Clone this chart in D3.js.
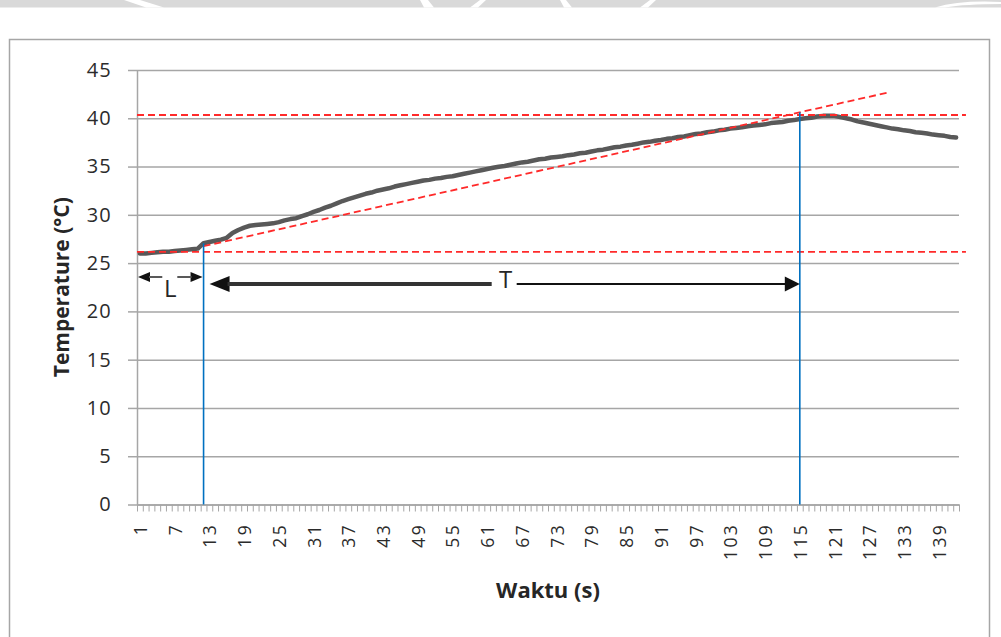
<!DOCTYPE html>
<html>
<head>
<meta charset="utf-8">
<script src="https://cdn.jsdelivr.net/npm/d3@7/dist/d3.min.js"></script>
<style>
body { margin: 0; background: #fff; }
svg { display: block; font-family: "Open Sans", "Noto Sans", sans-serif; }
</style>
</head>
<body>
<svg id="chart" width="1001" height="637"></svg>
<script>
// temperature reading per second
var temperature = [
  26.00, 26.00, 26.06, 26.12, 26.18, 26.18, 26.25, 26.31, 26.37, 26.43,
  26.50, 27.06, 27.18, 27.31, 27.43, 27.62, 28.12, 28.43, 28.68, 28.87,
  28.95, 29.00, 29.06, 29.12, 29.25, 29.43, 29.56, 29.65, 29.87, 30.06,
  30.30, 30.50, 30.75, 30.94, 31.18, 31.43, 31.62, 31.81, 32.00, 32.18,
  32.31, 32.50, 32.62, 32.75, 32.93, 33.06, 33.18, 33.31, 33.43, 33.56,
  33.62, 33.75, 33.81, 33.93, 34.00, 34.12, 34.25, 34.37, 34.50, 34.62,
  34.75, 34.87, 34.98, 35.06, 35.18, 35.31, 35.43, 35.50, 35.62, 35.75,
  35.81, 35.93, 36.00, 36.06, 36.18, 36.25, 36.37, 36.43, 36.56, 36.68,
  36.75, 36.87, 37.00, 37.06, 37.18, 37.25, 37.37, 37.50, 37.56, 37.68,
  37.75, 37.87, 37.93, 38.06, 38.12, 38.25, 38.37, 38.43, 38.56, 38.62,
  38.75, 38.81, 38.93, 39.00, 39.06, 39.18, 39.25, 39.31, 39.37, 39.50,
  39.56, 39.62, 39.75, 39.81, 39.93, 40.00, 40.06, 40.18, 40.25, 40.25,
  40.25, 40.12, 40.00, 39.87, 39.68, 39.56, 39.43, 39.31, 39.18, 39.06,
  38.93, 38.87, 38.75, 38.68, 38.56, 38.50, 38.43, 38.31, 38.25, 38.18,
  38.06, 38.00
];
var waktu = temperature.map(function(d, i) { return i + 1; });
var xTickLabels = ["1","7","13","19","25","31","37","43","49","55","61","67","73",
  "79","85","91","97","103","109","115","121","127","133","139"];
var yTicks = [0, 5, 10, 15, 20, 25, 30, 35, 40, 45];

// annotation (red dashed + blue markers)
var levelLow = 26.16, levelHigh = 40.34;
var tangentX = [12, 130.4], tangentY = [26.75, 42.69];
var markL = [0.5, 12], levelL = 23.56;
var markT = [12, 115], levelT = 22.84;

var svg = d3.select("#chart");
var plotL = 137, plotR = 959, plotT = 70, plotB = 504.5;

var x = d3.scaleLinear().domain([0.5, waktu.length + 0.5]).range([plotL, plotR]);
var y = d3.scaleLinear().domain([0, 45]).range([plotB, plotT]);

// page strip at top (scanned page) + chart frame
svg.append("rect").attr("x", 0).attr("y", 0).attr("width", 1001).attr("height", 7.5).attr("fill", "#d9d9d9");
var marks = svg.append("g").attr("fill", "#fff");
marks.append("path").attr("d", "M124,0 L140,0 L164,7.5 L146,7.5 Z");
marks.append("path").attr("d", "M420,0 L428,0 L434,7.5 L424,7.5 Z M470,7.5 L480,0 L486,0 L478,7.5 Z");
marks.append("path").attr("d", "M560,0 L566,0 L572,7.5 L564,7.5 Z M640,7.5 L650,0 L656,0 L648,7.5 Z");
marks.append("path").attr("d", "M935,7.5 Q960,0 1001,2 L1001,4 Q965,4 945,7.5 Z");
svg.append("path")
  .attr("d", "M9.5,645 V39.5 H989.5 V645")
  .attr("fill", "none").attr("stroke", "#a6a6a6").attr("stroke-width", 1.5);

// gridlines
var grid = svg.append("g")
  .attr("transform", "translate(" + plotL + ",0)")
  .call(d3.axisLeft(y).tickValues(yTicks).tickSize(-(plotR - plotL)).tickFormat(""));
grid.select(".domain").remove();
grid.selectAll("line").attr("stroke", "#a6a6a6").attr("stroke-width", 1.5);

// y axis
var yAxis = svg.append("g")
  .attr("transform", "translate(" + plotL + ",0)")
  .call(d3.axisLeft(y).tickValues(yTicks).tickSize(9).tickSizeOuter(0).tickPadding(16));
yAxis.select(".domain").attr("stroke", "#a6a6a6").attr("stroke-width", 1.5);
yAxis.selectAll("line").attr("stroke", "#a6a6a6").attr("stroke-width", 1.5);
yAxis.selectAll("text")
  .attr("font-size", 20).attr("letter-spacing", 1.2).attr("fill", "#2b2b2b")
  .attr("font-family", "Open Sans");

// x axis ticks between categories
var bounds = waktu.map(function(d) { return d - 0.5; }).concat([waktu.length + 0.5]);
var xAxis = svg.append("g")
  .attr("transform", "translate(0," + plotB + ")")
  .call(d3.axisBottom(x).tickValues(bounds).tickSize(7).tickSizeOuter(0).tickFormat(""));
xAxis.select(".domain").attr("stroke", "#a6a6a6").attr("stroke-width", 1.5);
xAxis.selectAll("line").attr("stroke", "#a6a6a6").attr("stroke-width", 1);

var xLab = svg.append("g")
  .attr("transform", "translate(0," + plotB + ")")
  .call(d3.axisBottom(x).tickValues(xTickLabels.map(Number)).tickSize(0).tickFormat(function(d) { return String(d); }));
xLab.select(".domain").remove();
xLab.selectAll("text")
  .attr("transform", "rotate(-90)")
  .attr("text-anchor", "end")
  .attr("x", -18.5).attr("y", 0).attr("dy", "0.37em")
  .attr("font-size", 17.5).attr("letter-spacing", 2.3).attr("fill", "#2b2b2b")
  .attr("font-family", "Open Sans");

// axis titles
svg.append("text")
  .attr("x", (plotL + plotR) / 2).attr("y", 598)
  .attr("text-anchor", "middle").attr("font-weight", "bold").attr("font-size", 22)
  .attr("font-family", "Open Sans")
  .attr("fill", "#262626").text("Waktu (s)");
svg.append("text")
  .attr("transform", "translate(69," + ((plotT + plotB) / 2) + ") rotate(-90)")
  .attr("text-anchor", "middle").attr("font-weight", "bold").attr("font-size", 21)
  .attr("font-family", "Open Sans")
  .attr("fill", "#262626").text("Temperature (°C)");

// temperature line
svg.append("path")
  .datum(temperature)
  .attr("fill", "none")
  .attr("stroke", "#595959")
  .attr("stroke-width", 4.5)
  .attr("stroke-linejoin", "round")
  .attr("stroke-linecap", "round")
  .attr("d", d3.line()
    .x(function(d, i) { return x(waktu[i]); })
    .y(function(d) { return y(d); }));

// red dashed construction lines
var red = svg.append("g").attr("stroke", "#ff2a2a").attr("stroke-width", 1.8)
  .attr("stroke-dasharray", "7,4").attr("fill", "none");
[levelLow, levelHigh].forEach(function(v) {
  red.append("line").attr("x1", x(0.5)).attr("x2", x(waktu.length + 1.7))
    .attr("y1", y(v)).attr("y2", y(v));
});
red.append("line")
  .attr("x1", x(tangentX[0])).attr("y1", y(tangentY[0]))
  .attr("x2", x(tangentX[1])).attr("y2", y(tangentY[1]));

// blue verticals
function tangentAt(c) {
  return tangentY[0] + (c - tangentX[0]) * (tangentY[1] - tangentY[0]) / (tangentX[1] - tangentX[0]);
}
var blue = svg.append("g").attr("stroke", "#0070c0").attr("stroke-width", 1.6);
blue.append("line").attr("x1", x(markT[0])).attr("x2", x(markT[0]))
  .attr("y1", y(0)).attr("y2", y(temperature[markT[0] - 1]));
blue.append("line").attr("x1", x(markT[1])).attr("x2", x(markT[1]))
  .attr("y1", y(0)).attr("y2", y(tangentAt(markT[1])));

// L arrow
var yl = y(levelL), lx0 = x(markL[0]), lx1 = x(markL[1]), lmid = (lx0 + lx1) / 2;
var ann = svg.append("g");
ann.append("path").attr("d", "M" + (lx0 + 1) + "," + yl + "l12,-5v10z").attr("fill", "#111");
ann.append("path").attr("d", "M" + (lx1 - 1) + "," + yl + "l-12,-5v10z").attr("fill", "#111");
ann.append("line").attr("x1", lx0 + 12).attr("x2", lmid - 8).attr("y1", yl).attr("y2", yl)
  .attr("stroke", "#595959").attr("stroke-width", 2);
ann.append("line").attr("x1", lmid + 7).attr("x2", lx1 - 12).attr("y1", yl).attr("y2", yl)
  .attr("stroke", "#595959").attr("stroke-width", 2);
ann.append("text").attr("x", lmid).attr("y", yl + 20).attr("text-anchor", "middle")
  .attr("font-size", 24).attr("fill", "#262626").text("L");

// T arrow
var yt = y(levelT), tx0 = x(markT[0]) + 6, tx1 = x(markT[1]), tmid = (x(markT[0]) + tx1) / 2 + 4;
ann.append("path").attr("d", "M" + tx0 + "," + yt + "l20,-8v16z").attr("fill", "#111");
ann.append("path").attr("d", "M" + tx1 + "," + yt + "l-15,-7.5v15z").attr("fill", "#111");
ann.append("line").attr("x1", tx0 + 18).attr("x2", tmid - 14).attr("y1", yt).attr("y2", yt)
  .attr("stroke", "#333").attr("stroke-width", 4);
ann.append("line").attr("x1", tmid + 11).attr("x2", tx1 - 14).attr("y1", yt).attr("y2", yt)
  .attr("stroke", "#111").attr("stroke-width", 2);
ann.append("text").attr("x", tmid).attr("y", yt + 4).attr("text-anchor", "middle")
  .attr("font-size", 24).attr("fill", "#262626").text("T");
</script>
</body>
</html>
